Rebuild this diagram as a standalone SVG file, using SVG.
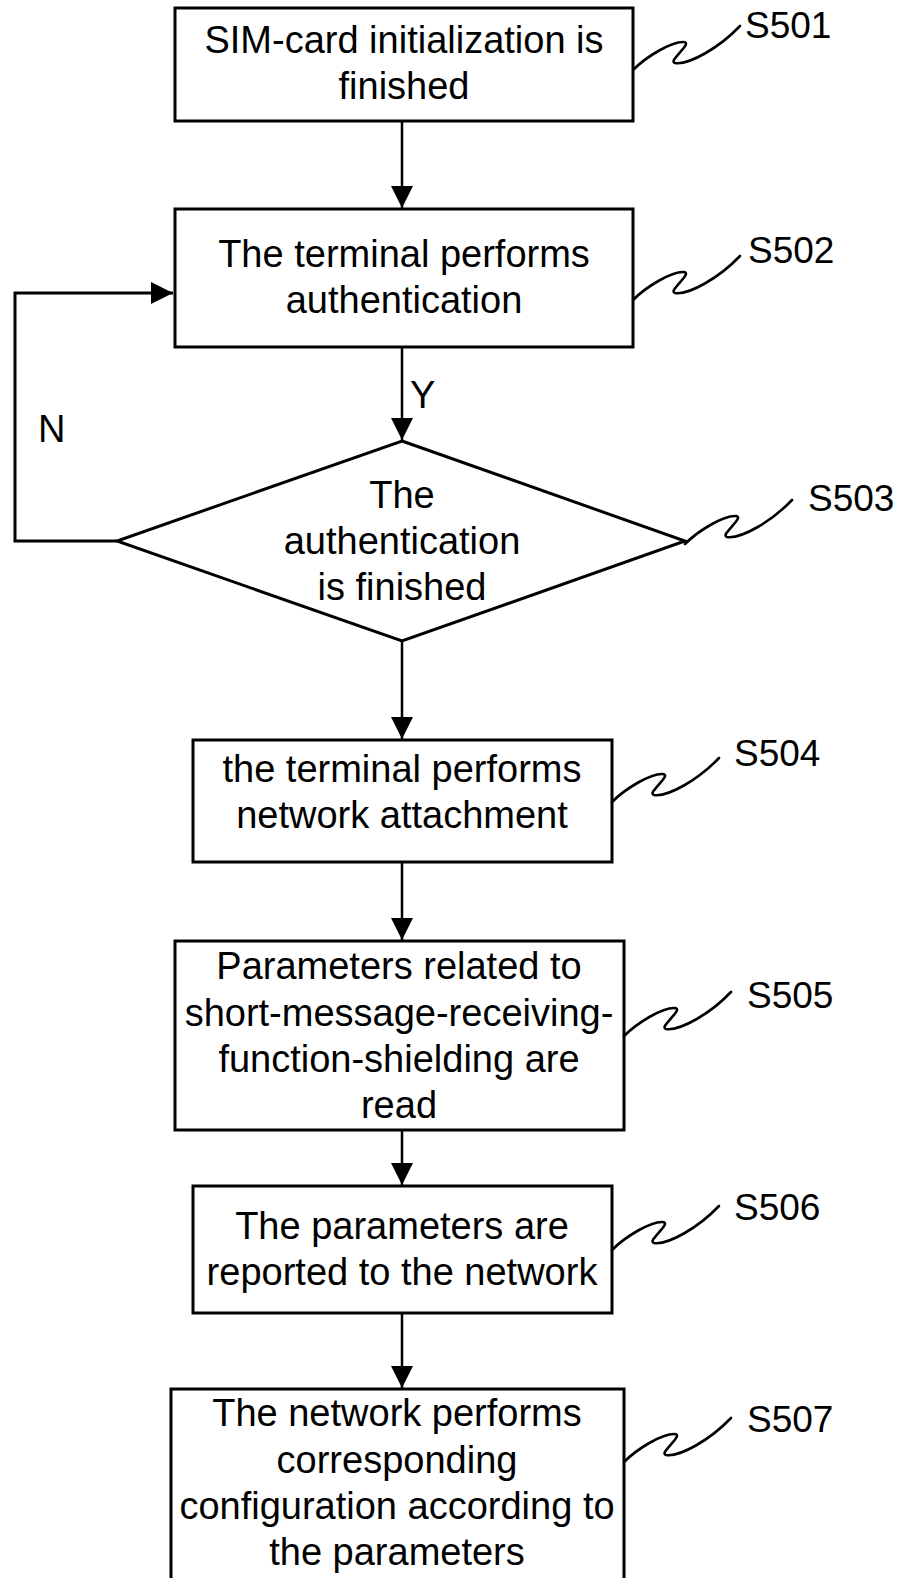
<svg xmlns="http://www.w3.org/2000/svg" width="906" height="1578" viewBox="0 0 906 1578">
<style>
.box{fill:#fff;stroke:#000;stroke-width:3}
.t{font-family:"Liberation Sans",Arial,sans-serif;font-size:38px;fill:#000;text-anchor:middle}
.lbl{font-family:"Liberation Sans",Arial,sans-serif;font-size:37px;fill:#000}
.c{fill:none;stroke:#000;stroke-width:2.5}
.sq{fill:none;stroke:#000;stroke-width:2.6;stroke-linecap:round;stroke-linejoin:round}
</style>
<defs>
<marker id="ah" markerWidth="22" markerHeight="22" refX="22" refY="11" orient="auto" markerUnits="userSpaceOnUse">
<path d="M0,0 L22,11 L0,22 Z" fill="#000"/>
</marker>
<path id="squig" d="M0,0 C14,-14 38,-28 50,-28 C62,-28 34,-9 42,-7 C56,-5 86,-22 107,-44"/>
</defs>
<rect width="906" height="1578" fill="#fff"/>

<g id="connectors">
<line class="c" x1="402" y1="121" x2="402" y2="208" marker-end="url(#ah)"/>
<line class="c" x1="402" y1="347" x2="402" y2="440" marker-end="url(#ah)"/>
<polyline class="c" style="stroke-width:3" points="117,541 15,541 15,293 173,293" marker-end="url(#ah)"/>
<line class="c" x1="402" y1="641" x2="402" y2="739" marker-end="url(#ah)"/>
<line class="c" x1="402" y1="862" x2="402" y2="940" marker-end="url(#ah)"/>
<line class="c" x1="402" y1="1130" x2="402" y2="1185" marker-end="url(#ah)"/>
<line class="c" x1="402" y1="1313" x2="402" y2="1388" marker-end="url(#ah)"/>
<text class="lbl" x="410" y="408" style="font-size:38px">Y</text>
<text class="lbl" x="38" y="442" style="font-size:38px">N</text>
</g>

<g id="S501">
<rect class="box" x="175" y="8" width="458" height="113"/>
<text class="t" x="404" y="53">SIM-card initialization is</text>
<text class="t" x="404" y="99">finished</text>
<use href="#squig" class="sq" transform="translate(633,70)"/>
<text class="lbl" x="745" y="38">S501</text>
</g>

<g id="S502">
<rect class="box" x="175" y="209" width="458" height="138"/>
<text class="t" x="404" y="267">The terminal performs</text>
<text class="t" x="404" y="313">authentication</text>
<use href="#squig" class="sq" transform="translate(633,300)"/>
<text class="lbl" x="748" y="263">S502</text>
</g>

<g id="S503">
<polygon class="box" points="402,441 685,541 402,641 117,541"/>
<text class="t" x="402" y="508">The</text>
<text class="t" x="402" y="554">authentication</text>
<text class="t" x="402" y="600">is finished</text>
<use href="#squig" class="sq" transform="translate(685,544)"/>
<text class="lbl" x="808" y="511">S503</text>
</g>

<g id="S504">
<rect class="box" x="193" y="740" width="419" height="122"/>
<text class="t" x="402" y="782">the terminal performs</text>
<text class="t" x="402" y="828">network attachment</text>
<use href="#squig" class="sq" transform="translate(612,802)"/>
<text class="lbl" x="734" y="766">S504</text>
</g>

<g id="S505">
<rect class="box" x="175" y="941" width="449" height="189"/>
<text class="t" x="399" y="979">Parameters related to</text>
<text class="t" x="399" y="1026">short-message-receiving-</text>
<text class="t" x="399" y="1072">function-shielding are</text>
<text class="t" x="399" y="1118">read</text>
<use href="#squig" class="sq" transform="translate(624,1036)"/>
<text class="lbl" x="747" y="1008">S505</text>
</g>

<g id="S506">
<rect class="box" x="193" y="1186" width="419" height="127"/>
<text class="t" x="402" y="1239">The parameters are</text>
<text class="t" x="402" y="1285">reported to the network</text>
<use href="#squig" class="sq" transform="translate(612,1250)"/>
<text class="lbl" x="734" y="1220">S506</text>
</g>

<g id="S507">
<rect class="box" x="171" y="1389" width="453" height="220"/>
<text class="t" x="397" y="1426">The network performs</text>
<text class="t" x="397" y="1473">corresponding</text>
<text class="t" x="397" y="1519">configuration according to</text>
<text class="t" x="397" y="1565">the parameters</text>
<use href="#squig" class="sq" transform="translate(624,1462)"/>
<text class="lbl" x="747" y="1432">S507</text>
</g>
</svg>
